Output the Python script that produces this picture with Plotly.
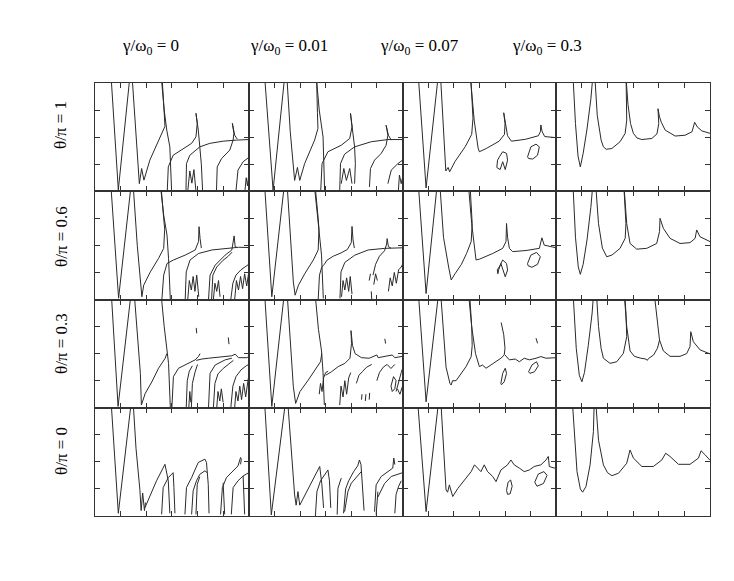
import plotly.graph_objects as go
from plotly.subplots import make_subplots

# ---- labels ----
gamma_labels = ["γ/ω<sub>0</sub> = 0", "γ/ω<sub>0</sub> = 0.01", "γ/ω<sub>0</sub> = 0.07", "γ/ω<sub>0</sub> = 0.3"]
theta_labels = ["θ/π = 1", "θ/π = 0.6", "θ/π = 0.3", "θ/π = 0"]
x_ticks = [1, 2, 3, 4, 5]
y_ticks = [1, 2, 3]

# ---- curve data (x in 0..6, y in 0..4), one list of segments per panel ----
# row 1: theta/pi = 1
p11 = [
    [(0.61, 4.5), (0.91, 0.05), (1.39, 4.5)],
    [(1.43, 4.5), (1.6, 2.2), (1.73, 0.28), (1.82, 0.84), (1.91, 0.41), (2.14, 1.15), (2.53, 2.01), (2.73, 2.4), (2.7, 2.9), (2.6, 4.5)],
    [(2.56, 4.5), (2.7, 3.0), (2.8, 2.26), (2.92, 1.64), (2.99, 0.0)],
    [(2.82, 0.0), (2.86, 0.9), (3.05, 1.33), (3.44, 1.58), (3.77, 1.77), (3.94, 2.01), (3.99, 2.51), (3.94, 2.88), (4.03, 2.26), (4.09, 1.64), (4.15, 1.0), (4.2, 0.0)],
    [(3.55, 0.0), (3.57, 1.02), (3.7, 1.33), (4.09, 1.64), (4.48, 1.77), (5.0, 1.85), (5.52, 1.89), (6.0, 1.91)],
    [(3.62, 0.0), (3.7, 0.75), (3.78, 0.3), (3.86, 0.8), (3.94, 0.0)],
    [(4.74, 0.0), (4.77, 0.9), (4.94, 1.21), (5.26, 1.52), (5.39, 1.89), (5.42, 2.14), (5.36, 2.51), (5.45, 2.07), (5.55, 1.93)],
    [(5.5, 0.0), (5.58, 0.78), (5.78, 1.09), (6.0, 1.25)],
    [(5.85, 0.0), (5.9, 0.5), (5.95, 0.2), (6.0, 0.6)],
]
p12 = [
    [(0.6, 4.5), (0.95, 0.04), (1.43, 4.5)],
    [(1.47, 4.5), (1.62, 2.2), (1.79, 0.4), (1.9, 0.88), (1.99, 0.4), (2.18, 1.02), (2.57, 1.89), (2.7, 2.32), (2.68, 2.9), (2.64, 4.5)],
    [(2.61, 4.5), (2.75, 3.0), (2.9, 2.01), (2.96, 0.04)],
    [(2.81, 0.04), (2.86, 1.02), (3.09, 1.46), (3.61, 1.7), (3.94, 1.95), (4.03, 2.38), (3.97, 2.88), (4.06, 2.26), (4.13, 1.64), (4.16, 1.02), (4.13, 0.28)],
    [(3.55, 0.04), (3.58, 1.02), (3.74, 1.37), (4.13, 1.64), (4.78, 1.83), (5.43, 1.91), (6.0, 1.91)],
    [(3.61, 0.28), (3.71, 0.84), (3.81, 0.4), (3.94, 0.84), (4.03, 0.28)],
    [(4.71, 0.16), (4.75, 0.84), (4.91, 1.15), (5.17, 1.4), (5.36, 1.7), (5.43, 2.07), (5.36, 2.44), (5.45, 2.07), (5.56, 1.89)],
    [(5.43, 0.28), (5.56, 0.78), (5.82, 1.02), (6.0, 1.15)],
    [(5.84, 0.04), (5.88, 0.6), (5.95, 0.28), (6.0, 0.5)],
]
p13 = [
    [(0.6, 4.5), (0.92, 0.12), (1.42, 4.5)],
    [(1.47, 4.5), (1.69, 0.75), (1.78, 0.88), (1.84, 0.72), (2.05, 1.1), (2.45, 1.65), (2.7, 2.1), (2.75, 2.7), (2.65, 4.5)],
    [(2.62, 4.5), (2.8, 2.6), (2.95, 1.6), (3.0, 1.46), (3.27, 1.58), (3.77, 1.85), (3.98, 2.1), (4.0, 2.5), (3.95, 2.9), (4.03, 2.4), (4.1, 2.05), (4.25, 1.85), (4.8, 1.92), (5.3, 2.05), (5.38, 2.2), (5.4, 2.45), (5.45, 2.2), (5.55, 2.02), (6.0, 1.98)],
    [(3.78, 1.27), (3.91, 1.46), (4.06, 1.40), (4.10, 1.15), (4.01, 0.80), (3.91, 1.09), (3.81, 0.80), (3.68, 0.88), (3.71, 1.15), (3.78, 1.27)],
    [(4.88, 1.27), (5.01, 1.64), (5.21, 1.74), (5.34, 1.64), (5.27, 1.33), (5.08, 1.19), (4.92, 1.21), (4.88, 1.27)],
]
p14 = [
    [(0.64, 4.5), (0.75, 2.5), (0.85, 1.3), (0.94, 0.9), (1.05, 1.4), (1.2, 2.3), (1.35, 3.4), (1.45, 4.5)],
    [(1.49, 4.5), (1.6, 2.8), (1.75, 1.9), (1.84, 1.64), (1.95, 1.55), (2.17, 1.58), (2.49, 1.83), (2.69, 2.14), (2.75, 2.63), (2.72, 4.5)],
    [(2.7, 4.5), (2.8, 3.2), (2.9, 2.5), (3.01, 2.14), (3.15, 1.97), (3.34, 1.91), (3.73, 1.95), (3.93, 2.12), (4.0, 2.5), (3.97, 3.05), (4.03, 2.75), (4.1, 2.55), (4.25, 2.26), (4.64, 2.04), (5.03, 2.07), (5.3, 2.2), (5.4, 2.55), (5.5, 2.38), (5.68, 2.23), (6.0, 2.14)],
]
# row 2: theta/pi = 0.6
p21 = [
    [(0.6, 4.5), (0.92, 0.05), (1.44, 4.5)],
    [(1.47, 4.5), (1.65, 2.0), (1.83, 0.1), (1.9, 0.53), (2.16, 1.02), (2.48, 1.52), (2.68, 1.89), (2.72, 2.6), (2.68, 3.0), (2.55, 4.5)],
    [(2.52, 4.5), (2.68, 3.12), (2.81, 2.38), (2.87, 1.52), (2.94, 0.0)],
    [(2.61, 0.0), (2.68, 0.9), (2.81, 1.33), (3.06, 1.46), (3.52, 1.64), (3.91, 1.83), (4.04, 2.14), (4.06, 2.69), (4.1, 2.26), (4.15, 1.9)],
    [(3.52, 0.0), (3.56, 1.02), (3.71, 1.46), (4.04, 1.7), (4.56, 1.83), (5.08, 1.89), (5.6, 1.93), (6.0, 1.92)],
    [(3.62, 0.0), (3.68, 0.7), (3.76, 0.35), (3.83, 0.85), (3.9, 0.3), (3.97, 0.9), (4.05, 0.1)],
    [(4.43, 0.0), (4.49, 0.9), (4.69, 1.27), (5.08, 1.64), (5.34, 1.83), (5.4, 2.14), (5.43, 2.35), (5.47, 1.95), (5.55, 1.92)],
    [(4.55, 0.0), (4.6, 0.9), (4.75, 1.2), (5.0, 1.45), (5.2, 1.6), (5.35, 1.75)],
    [(4.62, 0.0), (4.68, 0.6), (4.75, 0.3), (4.82, 0.7), (4.88, 0.1)],
    [(5.3, 0.0), (5.38, 0.6), (5.5, 0.9), (5.7, 1.1), (6.0, 1.3)],
    [(5.45, 0.0), (5.52, 0.7), (5.6, 0.35), (5.68, 0.85), (5.76, 0.4), (5.84, 0.95), (5.92, 0.5), (6.0, 1.0)],
]
p22 = [
    [(0.6, 4.5), (0.9, 0.1), (1.42, 4.5)],
    [(1.48, 4.5), (1.74, 0.65), (1.81, 0.16), (1.94, 0.53), (2.19, 0.96), (2.52, 1.46), (2.71, 1.83), (2.74, 2.6), (2.71, 3.0), (2.56, 4.5)],
    [(2.53, 4.5), (2.68, 3.1), (2.78, 2.38), (2.84, 1.64), (2.91, 0.04)],
    [(2.71, 0.0), (2.76, 0.9), (2.85, 1.2), (2.95, 1.3), (3.05, 1.45), (3.3, 1.6), (3.6, 1.72), (3.85, 1.85), (4.0, 2.1), (4.03, 2.7), (4.07, 2.2), (4.12, 1.9)],
    [(3.56, 0.04), (3.6, 1.02), (3.75, 1.37), (4.14, 1.64), (4.66, 1.83), (5.31, 1.89), (6.0, 1.91)],
    [(3.62, 0.1), (3.68, 0.7), (3.75, 0.35), (3.82, 0.8), (3.9, 0.3), (3.96, 0.85), (4.03, 0.2)],
    [(4.85, 0.9), (4.95, 1.3), (5.1, 1.6), (5.3, 1.8), (5.38, 2.05), (5.4, 2.25), (5.45, 1.95), (5.55, 1.9)],
    [(4.7, 0.7), (4.75, 0.95)],
    [(4.78, 0.3), (4.8, 0.0)],
    [(4.88, 0.55), (4.95, 0.95), (5.02, 0.7)],
    [(5.45, 0.3), (5.52, 0.8), (5.6, 0.5), (5.68, 1.0), (5.76, 0.6), (5.85, 1.1), (5.95, 1.2), (6.0, 1.3)],
]
p23 = [
    [(0.6, 4.5), (0.92, 0.22), (1.38, 4.5)],
    [(1.44, 4.5), (1.6, 2.3), (1.8, 1.2), (1.9, 0.72), (2.05, 0.95), (2.3, 1.3), (2.5, 1.7), (2.68, 2.14), (2.72, 2.8), (2.62, 4.5)],
    [(2.55, 4.5), (2.7, 2.8), (2.87, 1.46), (3.0, 1.49), (3.52, 1.70), (3.91, 1.89), (4.04, 2.14), (4.06, 2.81), (4.1, 2.3), (4.17, 1.89), (4.3, 1.77), (4.82, 1.81), (5.34, 1.89), (5.44, 2.28), (5.53, 2.01), (5.92, 1.91), (6.0, 1.91)],
    [(3.78, 1.21), (3.91, 1.46), (4.06, 1.33), (4.1, 1.09), (4.01, 0.84), (3.91, 1.15), (3.84, 1.33), (3.75, 1.09), (3.72, 0.95), (3.7, 1.1), (3.78, 1.21)],
    [(4.88, 1.33), (5.01, 1.64), (5.23, 1.74), (5.38, 1.58), (5.27, 1.30), (5.05, 1.19), (4.9, 1.25), (4.88, 1.33)],
]
p24 = [
    [(0.64, 4.5), (0.75, 2.3), (0.86, 1.2), (0.94, 0.93), (1.05, 1.3), (1.2, 2.2), (1.35, 3.4), (1.45, 4.5)],
    [(1.52, 4.5), (1.65, 2.8), (1.8, 1.9), (1.97, 1.58), (2.17, 1.64), (2.49, 1.89), (2.69, 2.26), (2.72, 2.8), (2.62, 4.5)],
    [(2.62, 4.5), (2.75, 2.8), (2.88, 2.07), (3.14, 1.86), (3.53, 1.89), (3.92, 2.07), (4.03, 2.51), (4.05, 3.0), (4.18, 2.63), (4.44, 2.26), (4.83, 2.07), (5.22, 2.1), (5.42, 2.26), (5.48, 2.57), (5.61, 2.32), (6.0, 2.14)],
]
# row 3: theta/pi = 0.3
p31 = [
    [(0.62, 4.5), (0.9, 0.05), (1.44, 4.5)],
    [(1.51, 4.5), (1.77, 1.27), (1.81, 0.1), (1.96, 0.53), (2.22, 0.96), (2.48, 1.46), (2.74, 1.83), (2.8, 2.0)],
    [(2.55, 4.5), (2.7, 3.0), (2.87, 1.64), (2.94, 0.0)],
    [(3.0, 0.0), (3.06, 1.15), (3.26, 1.46), (3.65, 1.64), (3.91, 1.77), (4.04, 1.9), (4.1, 2.0)],
    [(3.56, 0.0), (3.6, 1.0), (3.68, 1.35), (3.8, 1.55)],
    [(3.76, 0.0), (3.8, 0.9), (3.9, 1.3), (4.0, 1.6)],
    [(3.66, 0.0), (3.7, 0.6), (3.74, 0.2)],
    [(3.95, 1.75), (4.17, 1.8), (4.43, 1.83), (4.75, 1.87), (5.08, 1.9), (5.34, 1.92), (5.47, 1.98), (5.6, 1.85), (5.92, 1.85), (6.0, 1.88)],
    [(3.95, 2.95), (3.97, 2.75)],
    [(5.2, 2.6), (5.23, 2.35)],
    [(4.43, 0.0), (4.49, 1.27), (4.69, 1.58), (5.08, 1.77), (5.34, 1.83)],
    [(4.62, 0.0), (4.68, 0.9), (4.8, 1.25), (5.0, 1.45), (5.2, 1.6), (5.4, 1.75)],
    [(4.75, 0.0), (4.8, 0.6), (4.87, 0.25), (4.93, 0.7), (5.0, 0.2)],
    [(5.3, 0.0), (5.38, 0.8), (5.5, 1.15), (5.7, 1.4), (5.9, 1.55), (6.0, 1.6)],
    [(5.45, 0.0), (5.5, 0.6), (5.58, 0.25), (5.65, 0.8), (5.72, 0.3), (5.8, 0.9), (5.88, 0.4), (5.95, 1.0), (6.0, 1.2)],
]
p32 = [
    [(0.6, 4.5), (0.9, 0.05), (1.42, 4.5)],
    [(1.48, 4.5), (1.74, 0.78), (1.83, 0.16), (2.0, 0.6), (2.32, 1.02), (2.58, 1.4), (2.8, 1.7), (2.85, 2.0)],
    [(2.56, 4.5), (2.72, 2.9), (2.84, 2.1), (2.9, 1.3), (2.95, 0.1)],
    [(2.75, 0.5), (2.8, 0.9), (2.86, 0.6), (2.92, 1.1), (3.0, 1.3), (3.1, 1.35)],
    [(3.0, 1.2), (3.23, 1.33), (3.49, 1.52), (3.75, 1.64), (3.95, 1.83), (4.01, 2.38), (3.99, 2.85), (4.05, 2.3), (4.15, 2.0), (4.4, 1.85), (4.7, 1.83), (4.9, 1.9), (5.0, 1.95), (5.05, 1.85), (5.3, 1.9), (5.6, 1.95), (5.7, 1.85), (6.0, 1.9)],
    [(5.31, 2.55), (5.34, 2.37)],
    [(3.55, 0.1), (3.6, 0.8), (3.68, 0.4), (3.75, 1.0), (3.82, 0.5), (3.9, 1.1), (3.98, 1.3)],
    [(4.2, 0.9), (4.3, 1.2), (4.45, 1.35), (4.6, 1.5), (4.8, 1.6)],
    [(4.4, 0.3), (4.42, 0.5)],
    [(4.55, 0.25), (4.57, 0.5)],
    [(4.7, 0.3), (4.72, 0.55)],
    [(5.0, 1.0), (5.1, 1.3), (5.25, 1.5), (5.4, 1.6), (5.55, 1.45), (5.7, 1.6)],
    [(5.75, 0.6), (5.85, 1.0), (5.95, 1.3), (6.0, 1.45)],
    [(5.8, 0.7), (5.9, 0.5), (6.0, 0.8)],
    [(5.55, 0.8), (5.65, 1.15), (5.75, 1.0), (5.7, 0.7), (5.6, 0.6), (5.55, 0.8)],
]
p33 = [
    [(0.6, 4.5), (0.92, 0.22), (1.44, 4.5)],
    [(1.47, 4.5), (1.7, 1.5), (1.8, 1.1), (1.85, 0.9), (1.9, 0.84), (1.95, 1.0), (2.09, 1.0), (2.48, 1.52), (2.68, 1.89), (2.72, 2.3), (2.7, 3.0), (2.6, 4.5)],
    [(2.55, 4.5), (2.7, 3.0), (2.85, 2.0), (3.0, 1.52), (3.12, 1.58), (3.26, 1.46), (3.45, 1.58), (3.65, 1.7), (3.84, 1.83), (3.97, 1.95), (4.0, 2.2), (3.95, 2.7), (3.85, 3.15)],
    [(4.0, 1.95), (4.17, 1.77), (4.4, 1.8), (4.56, 1.7), (4.75, 1.83), (4.95, 1.77), (5.21, 1.83), (5.4, 1.89), (5.6, 1.83), (5.92, 1.83), (6.0, 1.85)],
    [(5.21, 2.57), (5.27, 2.38)],
    [(3.84, 0.9), (3.91, 1.27), (4.01, 1.46), (4.06, 1.27), (3.97, 0.96), (3.86, 0.85), (3.84, 0.9)],
    [(4.92, 1.33), (5.05, 1.58), (5.23, 1.7), (5.3, 1.55), (5.15, 1.33), (4.97, 1.27), (4.92, 1.33)],
]
p34 = [
    [(0.64, 4.5), (0.78, 2.2), (0.9, 1.2), (1.0, 0.96), (1.1, 1.3), (1.25, 2.3), (1.4, 3.5), (1.48, 4.5)],
    [(1.55, 4.5), (1.65, 3.0), (1.75, 2.2), (1.84, 1.83), (2.1, 1.64), (2.36, 1.70), (2.62, 2.01), (2.75, 2.63), (2.72, 3.5), (2.65, 4.5)],
    [(2.63, 4.5), (2.75, 3.0), (2.88, 2.1), (3.05, 1.9), (3.3, 1.83), (3.5, 1.8), (3.55, 1.75), (3.6, 1.82), (3.8, 1.95), (3.95, 2.2), (4.03, 2.5)],
    [(3.79, 4.5), (3.95, 3.0), (4.03, 2.5), (4.18, 2.1), (4.44, 1.9), (4.83, 1.9), (5.09, 2.0), (5.22, 2.26), (5.25, 2.81), (5.35, 2.44), (5.61, 2.14), (6.0, 1.99)],
]
# row 4: theta/pi = 0
p41 = [
    [(0.61, 4.5), (0.91, 0.1), (1.45, 4.5)],
    [(1.47, 4.5), (1.6, 2.5), (1.75, 0.99), (1.8, 0.2), (1.86, 0.85), (1.93, 0.2), (1.97, 0.5)],
    [(1.95, 0.31), (2.4, 1.3), (2.73, 1.91), (2.86, 1.3), (2.92, 0.1)],
    [(2.6, 0.06), (2.66, 1.05), (2.86, 1.42), (3.05, 1.6), (3.08, 1.05), (3.12, 0.1)],
    [(3.51, 0.06), (3.57, 1.05), (3.77, 1.42), (4.03, 1.98), (4.29, 2.1), (4.35, 1.98), (4.42, 1.17), (4.45, 0.1)],
    [(3.77, 0.06), (3.83, 0.93), (3.96, 1.3), (4.09, 1.54), (4.29, 1.67), (4.38, 1.6)],
    [(3.94, 0.06), (3.99, 1.17), (4.09, 1.45)],
    [(4.9, 0.06), (4.97, 1.05), (5.13, 1.42), (5.39, 1.67), (5.58, 1.85), (5.68, 2.16), (5.71, 2.1), (5.68, 1.91)],
    [(5.32, 0.06), (5.39, 1.05), (5.58, 1.3), (5.78, 1.48), (6.0, 1.6)],
    [(5.0, 1.23), (5.06, 0.06)],
    [(5.78, 1.48), (5.84, 0.06)],
]
p42 = [
    [(0.6, 4.5), (0.88, 0.04), (1.47, 4.5)],
    [(1.5, 4.5), (1.79, 0.78), (1.85, 0.4), (1.92, 0.9), (1.99, 0.4)],
    [(1.99, 0.4), (2.44, 1.26), (2.7, 1.7), (2.77, 1.83), (2.85, 1.2), (2.92, 0.3)],
    [(2.6, 0.0), (2.66, 0.9), (2.8, 1.3), (3.0, 1.6), (3.09, 1.7), (3.15, 1.3), (3.2, 0.3)],
    [(3.7, 0.1), (3.78, 1.0), (3.9, 1.3), (4.1, 1.65), (4.25, 1.85), (4.32, 2.07), (4.38, 1.9), (4.45, 1.0), (4.5, 0.2)],
    [(3.74, 0.16), (3.87, 0.9), (4.0, 1.21), (4.26, 1.52), (4.39, 1.64)],
    [(3.45, 0.05), (3.48, 1.02), (3.61, 1.4)],
    [(4.91, 0.16), (4.97, 1.15), (5.17, 1.46), (5.43, 1.64), (5.62, 1.77), (5.66, 2.14), (5.7, 1.9)],
    [(5.04, 0.7), (5.3, 1.2), (5.56, 1.46), (5.88, 1.58), (6.0, 1.6)],
    [(4.97, 0.05), (5.04, 0.9)],
    [(5.7, 0.1), (5.75, 0.8), (5.85, 1.1), (5.95, 1.3)],
]
p43 = [
    [(0.57, 4.5), (0.92, 0.16), (1.44, 4.5)],
    [(1.48, 4.5), (1.7, 0.96), (1.76, 0.88), (1.83, 1.15), (1.96, 0.72), (2.16, 1.02), (2.42, 1.33), (2.68, 1.64), (2.81, 1.89), (2.94, 1.77), (3.06, 1.64), (3.19, 1.89), (3.32, 1.64), (3.52, 1.46), (3.65, 1.27), (3.84, 1.7), (4.1, 1.89), (4.23, 2.07), (4.36, 1.89), (4.56, 1.77), (4.75, 1.64), (4.95, 1.7), (5.14, 1.83), (5.4, 1.89), (5.6, 2.07), (5.69, 2.2), (5.73, 1.83), (5.92, 1.77), (6.0, 1.8)],
    [(4.06, 0.95), (4.12, 1.25), (4.22, 1.33), (4.28, 1.1), (4.2, 0.82), (4.1, 0.8), (4.06, 0.95)],
    [(5.16, 1.25), (5.3, 1.55), (5.52, 1.64), (5.64, 1.5), (5.5, 1.2), (5.25, 1.1), (5.16, 1.25)],
]
p44 = [
    [(0.61, 4.5), (0.81, 1.64), (0.94, 1.0), (1.03, 0.88), (1.16, 1.09), (1.32, 1.89), (1.45, 3.12), (1.49, 4.5)],
    [(1.52, 4.5), (1.65, 2.8), (1.84, 1.89), (2.0, 1.6), (2.17, 1.49), (2.43, 1.58), (2.75, 1.95), (2.88, 2.44), (3.01, 2.14), (3.34, 1.83), (3.79, 1.83), (4.12, 2.07), (4.27, 2.32), (4.44, 2.2), (4.77, 1.91), (5.22, 1.91), (5.55, 2.14), (5.65, 2.41), (5.81, 2.26), (6.0, 2.06)],
]

panels = [[p11, p12, p13, p14], [p21, p22, p23, p24], [p31, p32, p33, p34], [p41, p42, p43, p44]]

# ---- figure ----
# the page body adds an 8px offset; figure margins are chosen so the grid lands at 95..710 x 83..516
W, H = 734, 581
OFF = 8
ml, mr, mt, mb = 95 - OFF, 24 + OFF, 83 - OFF, 65 + OFF
fig = make_subplots(rows=4, cols=4, horizontal_spacing=0, vertical_spacing=0)

line_col = "#2a2a2a"
for r in range(4):
    for c in range(4):
        for seg in panels[r][c]:
            fig.add_trace(
                go.Scatter(x=[p[0] for p in seg], y=[p[1] for p in seg], mode="lines",
                           line=dict(color=line_col, width=1), hoverinfo="skip", showlegend=False),
                row=r + 1, col=c + 1)

axis_common = dict(showgrid=False, zeroline=False, showline=True, linecolor="#333", linewidth=1,
                   mirror="ticks", ticks="inside", ticklen=5, tickcolor="#333", tickwidth=1,
                   showticklabels=False)
fig.update_xaxes(range=[0, 6], tickvals=x_ticks, **axis_common)
fig.update_yaxes(range=[0, 4], tickvals=y_ticks, **axis_common)

pw = W - ml - mr
ph = H - mt - mb
font = dict(family="Times New Roman, Liberation Serif, Times, serif", size=17, color="#000")

def px_to_paper_x(px):
    return (px - OFF - ml) / pw

def px_to_paper_y(py):
    return (H - mb - (py - OFF)) / ph

col_title_left = [120, 248, 378, 510]
for txt, px in zip(gamma_labels, col_title_left):
    fig.add_annotation(text=txt, xref="paper", yref="paper", x=px_to_paper_x(px), y=px_to_paper_y(47),
                       xanchor="left", yanchor="middle", showarrow=False, font=font)

row_label_center = [125, 237, 344, 451]
for txt, py in zip(theta_labels, row_label_center):
    fig.add_annotation(text=txt, xref="paper", yref="paper", x=px_to_paper_x(61), y=px_to_paper_y(py),
                       xanchor="center", yanchor="middle", showarrow=False, font=font, textangle=-90)

fig.update_layout(width=W, height=H, margin=dict(l=ml, r=mr, t=mt, b=mb),
                  paper_bgcolor="white", plot_bgcolor="white", showlegend=False,
                  font=dict(family="Times New Roman, Liberation Serif, Times, serif"))

fig.write_html("out.html")
